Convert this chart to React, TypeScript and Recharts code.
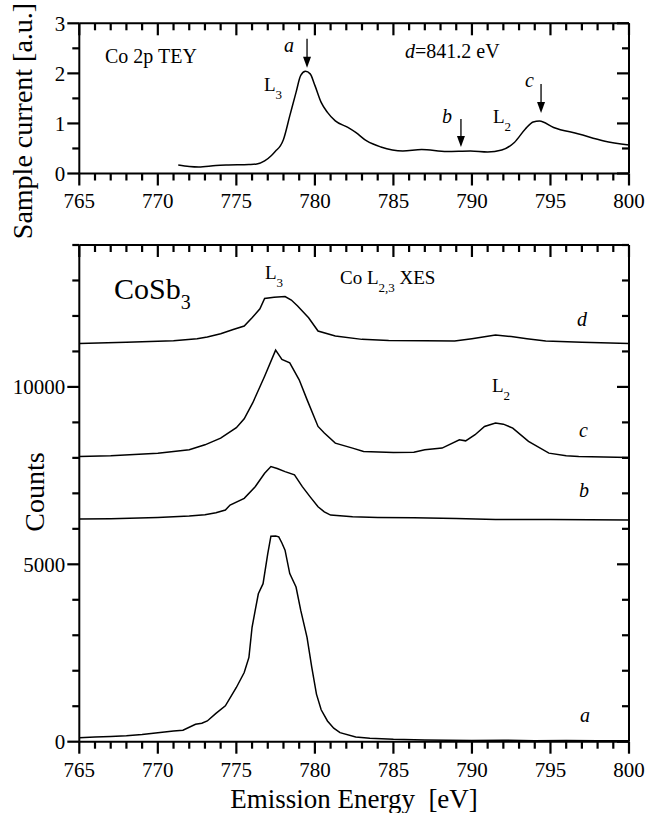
import React from 'react';
import { LineChart, Line, XAxis, YAxis, ReferenceLine, ReferenceDot } from 'recharts';

const FONT = '"Liberation Serif", "Times New Roman", Times, serif';

// ---- Top panel: Co 2p TEY (sample current, a.u.)
const teyEnergy = [771.3, 772.0, 772.6, 773.7, 774.5, 775.8, 776.3, 776.8, 777.2, 777.5, 777.8, 778.0, 778.4, 778.8, 779.1, 779.4, 779.7, 780.0, 780.4, 780.8, 781.3, 782.1, 782.6, 783.3, 784.2, 785.6, 786.8, 788.4, 789.9, 791.0, 791.9, 792.7, 793.4, 793.9, 794.3, 795.2, 796.8, 798.4, 800];
const teyCurrent = [0.17, 0.14, 0.13, 0.16, 0.17, 0.18, 0.19, 0.25, 0.35, 0.45, 0.55, 0.68, 1.15, 1.62, 1.96, 2.04, 1.99, 1.76, 1.42, 1.22, 1.05, 0.92, 0.82, 0.65, 0.53, 0.45, 0.48, 0.44, 0.45, 0.43, 0.47, 0.62, 0.89, 1.03, 1.05, 0.92, 0.79, 0.65, 0.57];

// ---- Bottom panel: Co L2,3 XES (counts)
const energyA = [765, 766, 767, 768, 769, 770, 771, 771.6, 772.4, 772.8, 773.15, 773.7, 774.3, 775.0, 775.5, 775.8, 776.0, 776.2, 776.4, 776.7, 777.0, 777.2, 777.5, 777.7, 777.9, 778.1, 778.4, 778.8, 779.1, 779.5, 779.8, 780.1, 780.4, 780.8, 781.2, 781.6, 782.6, 783.5, 785, 787, 790, 792, 794, 796, 798, 800];
const countsA = [113, 130, 150, 165, 200, 255, 300, 322, 492, 520, 585, 800, 1010, 1528, 1950, 2377, 3226, 3700, 4170, 4454, 5303, 5793, 5800, 5773, 5600, 5397, 4737, 4360, 3700, 2943, 2100, 1341, 900, 585, 380, 255, 133, 100, 68, 50, 35, 40, 30, 35, 25, 28];

const energyB = [765, 767, 770, 772, 773, 773.7, 774.3, 774.6, 775.5, 776.2, 776.8, 777.2, 777.6, 778.1, 778.7, 779.2, 779.7, 780.2, 780.6, 781.0, 782.4, 784, 786.3, 789, 791.5, 795, 800];
const countsB = [6274, 6285, 6322, 6360, 6400, 6453, 6529, 6670, 6860, 7188, 7567, 7755, 7700, 7613, 7520, 7188, 6900, 6623, 6480, 6388, 6340, 6320, 6312, 6290, 6265, 6260, 6246];

const energyC = [765, 767, 770, 772, 773, 774, 775, 775.5, 776.04, 776.8, 777.5, 777.9, 778.4, 779.0, 779.5, 780.2, 780.6, 781.3, 782.4, 783.1, 785, 786.3, 787, 788.1, 789.2, 789.6, 790.2, 790.8, 791.5, 792, 792.6, 793.6, 794.9, 796, 796.8, 800];
const countsC = [8037, 8060, 8133, 8227, 8368, 8558, 8850, 9100, 9548, 10301, 11037, 10774, 10680, 10200, 9642, 8886, 8700, 8416, 8275, 8179, 8151, 8160, 8230, 8275, 8511, 8480, 8652, 8886, 8981, 8950, 8840, 8463, 8133, 8060, 8037, 8009];

const energyD = [765, 768, 771, 772.5, 773.15, 774, 774.8, 775.5, 776, 776.5, 776.8, 777.4, 778.1, 778.5, 778.9, 779.6, 780.2, 781.3, 783, 784.7, 787, 788.9, 790, 791, 791.5, 792.5, 793.5, 794.7, 797, 800];
const countsD = [11227, 11260, 11300, 11360, 11405, 11500, 11620, 11717, 11950, 12200, 12491, 12530, 12548, 12450, 12282, 11950, 11575, 11433, 11340, 11311, 11300, 11292, 11360, 11430, 11462, 11420, 11360, 11292, 11260, 11227];

// ---- Ticks
const xMajorTicks = [765, 770, 775, 780, 785, 790, 795, 800];
const xMinorTicks = [766, 767, 768, 769, 771, 772, 773, 774, 776, 777, 778, 779, 781, 782, 783, 784, 786, 787, 788, 789, 791, 792, 793, 794, 796, 797, 798, 799];
const teyYMajor = [0, 1, 2, 3];
const teyYMinor = [0.5, 1.5, 2.5];
const xesYMajor = [0, 5000, 10000];
const xesYMinor = [1000, 2000, 3000, 4000, 6000, 7000, 8000, 9000, 11000, 12000, 13000, 14000];

// arrows on TEY spectrum: energy, start and end of the arrow
const arrowEnergies = [779.5, 789.3, 794.4];
const arrowFrom = [2.69, 1.09, 1.79];
const arrowTo = [2.11, 0.53, 1.21];

const toData = (xs: number[], ys: number[]) => xs.map((e, i) => ({ e, v: ys[i] }));
const teyData = toData(teyEnergy, teyCurrent);
const dataA = toData(energyA, countsA);
const dataB = toData(energyB, countsB);
const dataC = toData(energyC, countsC);
const dataD = toData(energyD, countsD);

const X_DOMAIN = [765, 800];
const MAJ = 12;
const MIN = 7;
const SW = 2;
const HW = 1.1; // half width of a tick mark

const axisLineStyle = { stroke: '#000', strokeWidth: SW };
const tickText = { fontSize: 21, fontFamily: FONT, fill: '#000' };

const ArrowHead = (props: any) => {
  const { cx, cy } = props;
  return <path d={`M${cx - 4},${cy - 11} L${cx + 4},${cy - 11} L${cx},${cy} Z`} fill="#000" />;
};

// tick mark shapes, drawn from the anchor point (cx, cy) on the frame
const tickDown = (len: number) => (p: any) => (
  <path d={`M${p.cx - HW},${p.cy} L${p.cx + HW},${p.cy} L${p.cx + HW},${p.cy + len} L${p.cx - HW},${p.cy + len} Z`} fill="#000" />
);
const tickLeft = (len: number) => (p: any) => (
  <path d={`M${p.cx},${p.cy - HW} L${p.cx},${p.cy + HW} L${p.cx - len},${p.cy + HW} L${p.cx - len},${p.cy - HW} Z`} fill="#000" />
);

function frameTicks(yDomain: number[], yMajor: number[], yMinor: number[]) {
  const [x0, x1] = X_DOMAIN;
  const [y0, y1] = yDomain;
  const out: any[] = [];
  const dot = (key: string, x: number, y: number, shape: any) => (
    <ReferenceDot key={key} xAxisId="b" yAxisId="l" x={x} y={y} r={1} shape={shape} />
  );
  const xs = [...xMajorTicks.map((v) => [v, MAJ]), ...xMinorTicks.map((v) => [v, MIN])];
  xs.forEach(([v, len]) => {
    out.push(dot('xb' + v, v, y0, tickDown(len))); // outward, below the bottom axis
    out.push(dot('xt' + v, v, y1, tickDown(len))); // inward, below the top axis
  });
  const ys = [...yMajor.map((v) => [v, MAJ]), ...yMinor.map((v) => [v, MIN])];
  ys.forEach(([v, len]) => {
    out.push(dot('yl' + v, x0, v, tickLeft(len))); // outward, left of the left axis
    out.push(dot('yr' + v, x1, v, tickLeft(len))); // inward, left of the right axis
  });
  return out;
}

function frameAxes(yDomain: number[], yMajor: number[], bottomH: number, topH: number) {
  return [
    <XAxis key="b" xAxisId="b" dataKey="e" type="number" orientation="bottom" domain={X_DOMAIN} ticks={xMajorTicks} interval={0}
      height={bottomH} tickSize={MAJ} tickMargin={8} tickLine={false} axisLine={axisLineStyle} tick={tickText} allowDataOverflow />,
    <XAxis key="t" xAxisId="t" dataKey="e" type="number" orientation="top" domain={X_DOMAIN} ticks={xMajorTicks} interval={0}
      height={topH} tickLine={false} axisLine={axisLineStyle} tick={false} allowDataOverflow />,
    <YAxis key="l" yAxisId="l" type="number" orientation="left" domain={yDomain} ticks={yMajor} interval={0}
      width={79.3} tickSize={MAJ} tickMargin={2} tickLine={false} axisLine={axisLineStyle} tick={tickText} allowDataOverflow />,
    <YAxis key="r" yAxisId="r" type="number" orientation="right" domain={yDomain} ticks={yMajor} interval={0}
      width={20} tickLine={false} axisLine={axisLineStyle} tick={false} allowDataOverflow />,
  ];
}

export default function App() {
  return (
    <div style={{ position: 'absolute', left: 0, top: 0, width: 649, height: 813, background: '#fff', fontFamily: FONT }}>
      {/* Top panel */}
      <div style={{ position: 'absolute', left: 0, top: 0 }}>
        <LineChart width={649} height={215} margin={{ top: 0, right: 0, bottom: 0, left: 0 }}>
          {frameAxes([0, 3], teyYMajor, 41.5, 23.3)}
          <Line xAxisId="b" yAxisId="l" data={teyData} dataKey="v" type="monotone" stroke="#000" strokeWidth={1.5} dot={false} isAnimationActive={false} />
          {arrowEnergies.map((e, i) => (
            <ReferenceLine key={'al' + i} xAxisId="b" yAxisId="l" segment={[{ x: e, y: arrowFrom[i] }, { x: e, y: arrowTo[i] + 0.15 }]} stroke="#000" strokeWidth={1.3} />
          ))}
          {arrowEnergies.map((e, i) => (
            <ReferenceDot key={'ah' + i} xAxisId="b" yAxisId="l" x={e} y={arrowTo[i]} r={4} shape={ArrowHead} />
          ))}
          {frameTicks([0, 3], teyYMajor, teyYMinor)}
        </LineChart>
      </div>

      {/* Bottom panel */}
      <div style={{ position: 'absolute', left: 0, top: 215 }}>
        <LineChart width={649} height={598} margin={{ top: 0, right: 0, bottom: 0, left: 0 }}>
          {frameAxes([0, 14000], xesYMajor, 71.3, 30)}
          <Line xAxisId="b" yAxisId="l" data={dataA} dataKey="v" type="linear" stroke="#000" strokeWidth={1.5} dot={false} isAnimationActive={false} />
          <Line xAxisId="b" yAxisId="l" data={dataB} dataKey="v" type="linear" stroke="#000" strokeWidth={1.5} dot={false} isAnimationActive={false} />
          <Line xAxisId="b" yAxisId="l" data={dataC} dataKey="v" type="linear" stroke="#000" strokeWidth={1.5} dot={false} isAnimationActive={false} />
          <Line xAxisId="b" yAxisId="l" data={dataD} dataKey="v" type="linear" stroke="#000" strokeWidth={1.5} dot={false} isAnimationActive={false} />
          {frameTicks([0, 14000], xesYMajor, xesYMinor)}
        </LineChart>
      </div>

      {/* Annotations */}
      <svg width={649} height={813} style={{ position: 'absolute', left: 0, top: 0, pointerEvents: 'none' }} fontFamily={FONT} fill="#000">
        <text transform="translate(32,121) rotate(-90)" textAnchor="middle" fontSize={28}>Sample current [a.u.]</text>
        <text transform="translate(44,492) rotate(-90)" textAnchor="middle" fontSize={28}>Counts</text>
        <text x={354} y={808} textAnchor="middle" fontSize={27} xmlSpace="preserve">Emission Energy  [eV]</text>

        <text x={105} y={63} fontSize={20}>Co 2p TEY</text>
        <text x={284} y={52} fontSize={20} fontStyle="italic">a</text>
        <text x={264} y={91} fontSize={19}>L<tspan fontSize={13} dy={8}>3</tspan></text>
        <text x={405} y={58} fontSize={20}><tspan fontStyle="italic">d</tspan>=841.2 eV</text>
        <text x={442} y={123} fontSize={20} fontStyle="italic">b</text>
        <text x={493} y={123} fontSize={19}>L<tspan fontSize={13} dy={8}>2</tspan></text>
        <text x={525} y={87} fontSize={20} fontStyle="italic">c</text>

        <text x={114} y={299} fontSize={30}>CoSb<tspan fontSize={20} dy={10}>3</tspan></text>
        <text x={265} y={279} fontSize={19}>L<tspan fontSize={13} dy={8}>3</tspan></text>
        <text x={340} y={284} fontSize={19}>Co L<tspan fontSize={13} dy={8}>2,3</tspan><tspan dy={-8}> XES</tspan></text>
        <text x={577} y={326} fontSize={20} fontStyle="italic">d</text>
        <text x={492} y={392} fontSize={19}>L<tspan fontSize={13} dy={8}>2</tspan></text>
        <text x={579} y={437} fontSize={20} fontStyle="italic">c</text>
        <text x={579} y={497} fontSize={20} fontStyle="italic">b</text>
        <text x={580} y={722} fontSize={20} fontStyle="italic">a</text>
      </svg>
    </div>
  );
}
